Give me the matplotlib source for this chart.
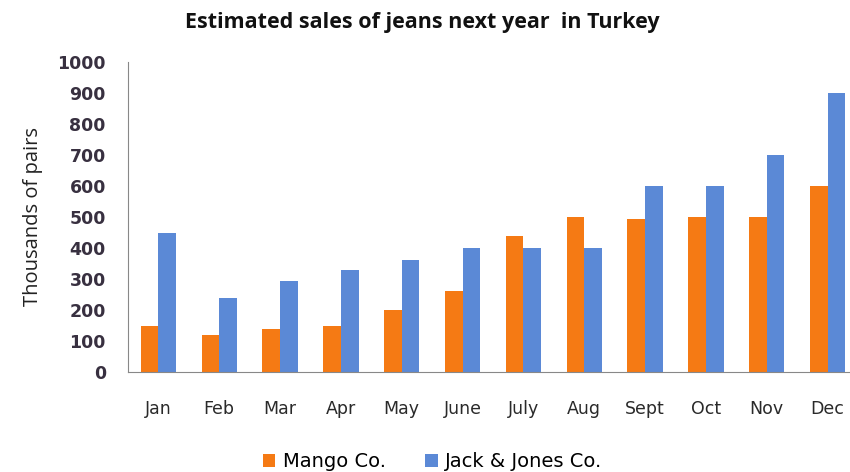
import matplotlib.pyplot as plt
import numpy as np

# values (thousands of pairs)
months = ['Jan', 'Feb', 'Mar', 'Apr', 'May', 'June', 'July', 'Aug', 'Sept', 'Oct', 'Nov', 'Dec']
mango = [150, 120, 140, 150, 200, 260, 440, 500, 495, 500, 500, 600]
jack_jones = [450, 240, 295, 330, 360, 400, 400, 400, 600, 600, 700, 900]
yticks = [0, 100, 200, 300, 400, 500, 600, 700, 800, 900, 1000]

plt.rcParams['font.family'] = ['Open Sans', 'DejaVu Sans']

fig = plt.figure(figsize=(8.5, 4.72), dpi=100)
ax = fig.add_axes([128 / 850, 1 - 372 / 472, 730 / 850, 310 / 472])

x = np.arange(len(months))
w = 0.29
ax.bar(x - w / 2, mango, w, color='#F57A14', label='Mango Co.')
ax.bar(x + w / 2, jack_jones, w, color='#5B89D6', label='Jack & Jones Co.')

ax.set_xlim(-0.5, len(months) - 0.5)
ax.set_ylim(0, 1000)
ax.set_yticks(yticks)
ax.set_yticklabels([str(v) for v in yticks], fontsize=12.5, color='#383040',
                   fontweight='bold', family='DejaVu Sans')
ax.set_xticks(x)
ax.set_xticklabels(months, fontsize=12.5, color='#2a2a2a', family='DejaVu Sans')
ax.tick_params(axis='both', length=0)
ax.tick_params(axis='y', pad=16)
ax.tick_params(axis='x', pad=20)

for s in ['top', 'right']:
    ax.spines[s].set_visible(False)
ax.spines['left'].set_color('#888888')
ax.spines['bottom'].set_color('#888888')

ax.set_ylabel('Thousands of pairs', fontsize=14.5, color='#222222', labelpad=10)
fig.text(0.497, 0.953, 'Estimated sales of jeans next year  in Turkey', ha='center', va='center',
         fontsize=15.5, fontweight='bold', color='#111111')

fig.legend(loc='center', bbox_to_anchor=(0.509, 0.022), ncol=2, frameon=False,
           prop={'family': 'DejaVu Sans', 'size': 14},
           handlelength=0.65, handleheight=0.65, columnspacing=2.0, handletextpad=0.4)

fig.savefig('out.png', dpi=100)
